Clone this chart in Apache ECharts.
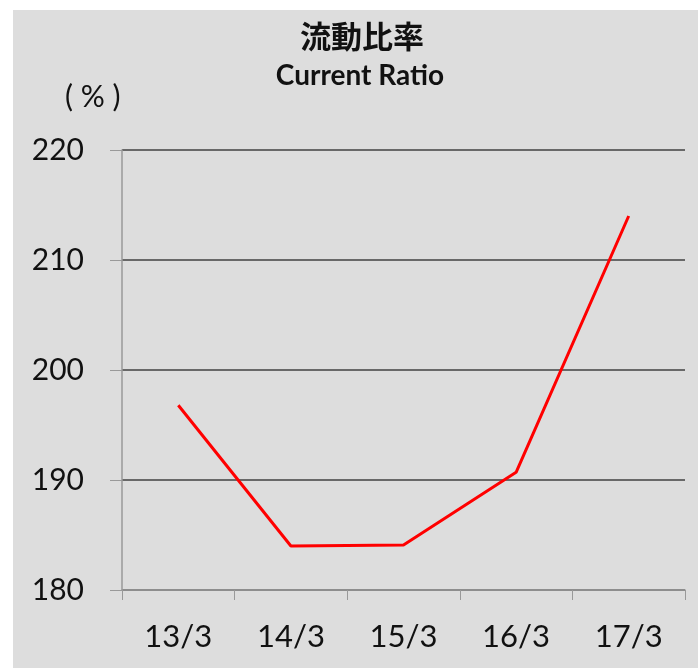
<!DOCTYPE html>
<html><head><meta charset="utf-8">
<script src="https://cdn.jsdelivr.net/npm/echarts@6/dist/echarts.min.js"></script>
<style>html,body{margin:0;padding:0;background:#fff}#c{width:698px;height:670px}</style>
</head><body><div id="c"></div>
<script>
const categories = ['13/3', '14/3', '15/3', '16/3', '17/3'];
const currentRatio = [196.8, 184.0, 184.1, 190.7, 214.0];
const yTicks = { min: 180, max: 220, interval: 10 };

const chart = echarts.init(document.getElementById('c'));
chart.setOption({
  backgroundColor: '#ffffff',
  animation: false,
  graphic: [
    { type: 'rect', z: -10, shape: { x: 13, y: 10, width: 685, height: 658 }, style: { fill: '#dddddd' } },
    { type: 'text', style: { text: '流動比率', x: 362, y: 36, textAlign: 'center', textVerticalAlign: 'middle', font: 'bold 31px "Noto Sans CJK JP"', fill: '#111' } },
    { type: 'text', style: { text: 'Current Ratio', x: 360, y: 76, textAlign: 'center', textVerticalAlign: 'middle', font: 'bold 28px Lato', fill: '#111' } },
    { type: 'text', style: { text: '( % )', x: 65, y: 97, textAlign: 'left', textVerticalAlign: 'middle', font: '30px Lato', fill: '#111' } }
  ],
  grid: { left: 122, right: 13, top: 150, bottom: 80 },
  xAxis: {
    type: 'category', data: categories, boundaryGap: true,
    axisLine: { lineStyle: { color: '#999999', width: 1.5 } },
    axisTick: { show: true, length: 10, lineStyle: { color: '#999999' } },
    axisLabel: { fontFamily: 'Lato', fontSize: 31, color: '#111', margin: 31 }
  },
  yAxis: {
    type: 'value', min: yTicks.min, max: yTicks.max, interval: yTicks.interval,
    axisLine: { show: true, lineStyle: { color: '#999999', width: 1.5 } },
    axisTick: { show: true, length: 12, lineStyle: { color: '#999999' } },
    splitLine: { lineStyle: { color: '#404040', width: 1.5 } },
    axisLabel: { fontFamily: 'Lato', fontSize: 30, color: '#111', margin: 38 }
  },
  series: [{
    type: 'line', data: currentRatio, symbol: 'none',
    lineStyle: { color: '#ff0000', width: 3 }
  }]
});
</script></body></html>
